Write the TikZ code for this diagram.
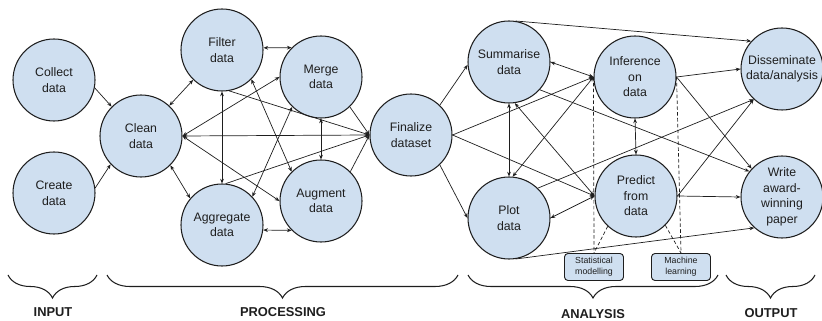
\documentclass[tikz,border=0pt]{standalone}
\usepackage{fontspec}
\setmainfont{Liberation Sans}
\usetikzlibrary{arrows.meta,decorations.pathreplacing}
\definecolor{bubble}{RGB}{207,223,240}
\definecolor{ink}{RGB}{30,30,30}

\begin{document}
\begin{tikzpicture}[x=0.03cm,y=-0.03cm,
    stage/.style={circle,draw=ink,line width=0.9pt,fill=bubble,minimum size=2.46cm,
      inner sep=0pt,align=center,text=ink,font=\fontsize{10.5}{13.3}\selectfont},
    method/.style={rectangle,rounded corners=3pt,draw=ink,line width=0.8pt,fill=bubble,
      minimum width=1.77cm,minimum height=0.81cm,inner sep=1pt,align=center,text=ink,
      font=\fontsize{7.5}{9.5}\selectfont},
    link/.style={draw=ink,line width=0.6pt},
    tip/.style={-{Stealth[length=4pt,width=3.2pt]}},
    both/.style={{Stealth[length=4pt,width=3.2pt]}-{Stealth[length=4pt,width=3.2pt]}},
    hint/.style={draw=ink,line width=0.6pt,densely dashed},
    brace/.style={draw=ink,line width=0.9pt,decorate,decoration={brace,mirror,amplitude=0.69cm}},
    phase/.style={text=ink,font=\fontsize{11}{13}\selectfont\bfseries}]
  \useasboundingbox (0,0) rectangle (822,321);

  % stages
  \node[stage] (collect) at (54,80) {Collect\\data};
  \node[stage] (create) at (54,193) {Create\\data};
  \node[stage] (clean) at (141,136) {Clean\\data};
  \node[stage] (filter) at (222,50) {Filter\\data};
  \node[stage] (aggregate) at (222,225) {Aggregate\\data};
  \node[stage] (merge) at (321,77) {Merge\\data};
  \node[stage] (augment) at (321,201) {Augment\\data};
  \node[stage] (finalize) at (411,135) {Finalize\\dataset};
  \node[stage] (summarise) at (509,62) {Summarise\\data};
  \node[stage] (plot) at (509,218) {Plot\\data};
  \node[stage] (inference) at (635,77) {Inference\\on\\data};
  \node[stage] (predict) at (636,196) {Predict\\from\\data};
  \node[stage] (disseminate) at (782,69) {Disseminate\\data/analysis};
  \node[stage] (paper) at (782,197) {Write\\award-\\winning\\paper};

  % methods
  \node[method] (stats) at (594,267) {Statistical\\modelling};
  \node[method] (ml) at (681,267) {Machine\\learning};

  % input and processing
  \draw[link,tip] (collect.-11) -- (clean.135);
  \draw[link,tip] (create.7) -- (clean.223);
  \draw[link,both] (clean.47) -- (filter.226);
  \draw[link,both] (clean.-45) -- (aggregate.140);
  \draw[link,both] (clean.east) -- (merge.west);
  \draw[link,both] (clean.east) -- (finalize.west);
  \draw[link,both] (clean.east) -- (augment.west);
  \draw[link,both] (filter.3) -- (merge.135);
  \draw[link,both] (filter.south) -- (aggregate.north);
  \draw[link,tip] (filter.-80) -- (finalize.west);
  \draw[link,both] (filter.-45) -- (augment.135);
  \draw[link,both] (aggregate.43) -- (merge.226);
  \draw[link,both] (aggregate.-7) -- (augment.225);
  \draw[link,tip] (aggregate.85) -- (finalize.west);
  \draw[link,both] (merge.south) -- (augment.north);
  \draw[link,tip] (merge.-46) -- (finalize.west);
  \draw[link,tip] (augment.45) -- (finalize.west);

  % analysis
  \draw[link,tip] (finalize.46) -- (summarise.184);
  \draw[link,tip] (finalize.-46) -- (plot.west);
  \draw[link,tip] (finalize.east) -- (inference.west);
  \draw[link,tip] (finalize.east) -- (predict.west);
  \draw[link,both] (summarise.south) -- (plot.north);
  \draw[link,both] (summarise.east) -- (inference.west);
  \draw[link,both] (summarise.-82) -- (predict.west);
  \draw[link,both] (plot.85) -- (inference.west);
  \draw[link,both] (predict.west) -- (plot.east);
  \draw[link,both] (inference.south) -- (predict.north);

  % output
  \draw[link,tip] (summarise.81) -- (disseminate.138);
  \draw[link,tip] (summarise.-42) -- (paper.142);
  \draw[link,tip] (plot.46) -- (disseminate.227);
  \draw[link,tip] (plot.-81) -- (paper.228);
  \draw[link,tip] (inference.east) -- (disseminate.west);
  \draw[link,tip] (inference.east) -- (paper.137);
  \draw[link,tip] (predict.east) -- (disseminate.227);
  \draw[link,tip] (predict.east) -- (paper.west);

  % methods used
  \draw[hint] (inference.west) -- (stats.north);
  \draw[hint] (predict.-133) -- (stats.north);
  \draw[hint] (inference.east) -- (ml.north);
  \draw[hint] (predict.-45) -- (ml.north);

  % phases
  \draw[brace] (8,275) -- (97,275);
  \draw[brace] (107,275) -- (458,275);
  \draw[brace] (468,275) -- (718,275);
  \draw[brace] (726,275) -- (815,275);
  \node[phase] (input) at (53,312) {INPUT};
  \node[phase] (processing) at (283,312) {PROCESSING};
  \node[phase] (analysis) at (593,314) {ANALYSIS};
  \node[phase] (output) at (771,313) {OUTPUT};
\end{tikzpicture}
\end{document}
